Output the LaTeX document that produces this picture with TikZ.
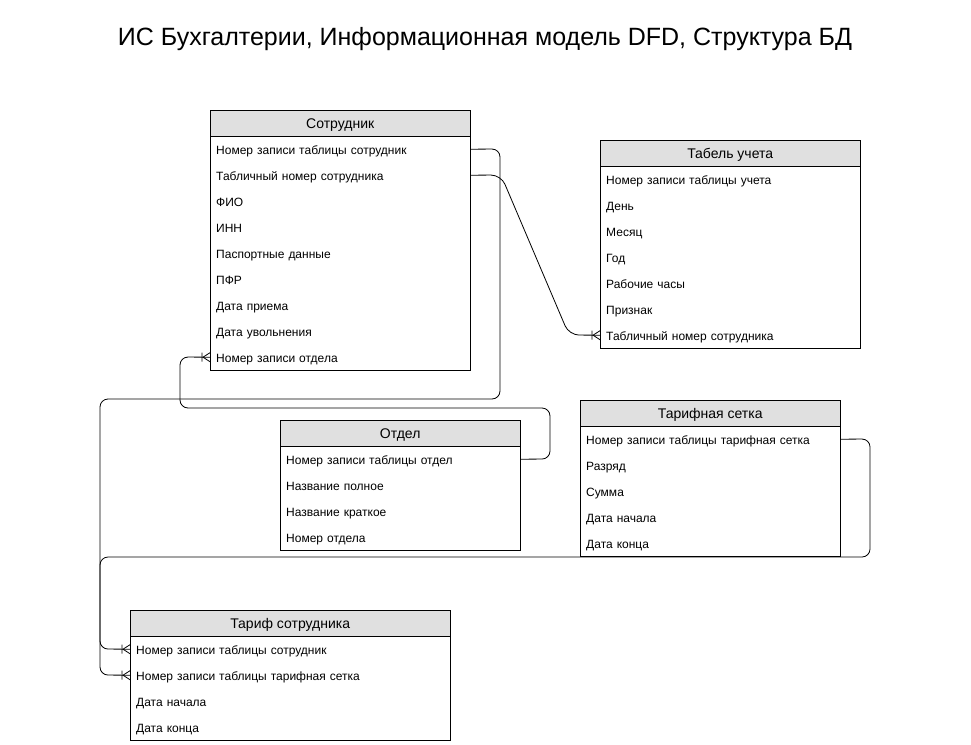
\documentclass[tikz,border=0pt]{standalone}
\usepackage{fontspec}
\setmainfont{Liberation Sans}
\begin{document}
\begin{tikzpicture}[x=1pt,y=-1pt,
  hdr/.style={draw=black, fill=black!12, minimum height=26pt, inner sep=0pt, anchor=north west, text height=11pt, text depth=0pt, font=\fontsize{14}{16}\selectfont},
  row/.style={inner xsep=6pt, inner ysep=0pt, minimum height=26pt, anchor=north west, align=left, text height=10.5pt, text depth=0.5pt, font=\fontsize{12}{14}\selectfont},
  tbox/.style={draw=black, line width=0.8pt},
  conn/.style={draw=black, line width=0.8pt, rounded corners=8pt},
  crow/.pic={\draw[line width=0.8pt] (-7,0) -- (0,-4.5) (-7,0) -- (0,4.5) (-8,-4.5) -- (-8,4.5);}
]
\useasboundingbox (0,0) rectangle (971,744);
\node[font=\fontsize{25}{29}\selectfont] (title) at (485,39) {ИС Бухгалтерии, Информационная модель DFD, Структура БД};

% Сотрудник
\draw[tbox] (210,110) rectangle (470,370);
\node[hdr, minimum width=260pt] (sh) at (210,110) {Сотрудник};
\node[row, text width=248pt] (s1) at (210,136) {Номер записи таблицы сотрудник};
\node[row, text width=248pt] (s2) at (210,162) {Табличный номер сотрудника};
\node[row, text width=248pt] (s3) at (210,188) {ФИО};
\node[row, text width=248pt] (s4) at (210,214) {ИНН};
\node[row, text width=248pt] (s5) at (210,240) {Паспортные данные};
\node[row, text width=248pt] (s6) at (210,266) {ПФР};
\node[row, text width=248pt] (s7) at (210,292) {Дата приема};
\node[row, text width=248pt] (s8) at (210,318) {Дата увольнения};
\node[row, text width=248pt] (s9) at (210,344) {Номер записи отдела};

% Табель учета
\draw[tbox] (600,140) rectangle (860,348);
\node[hdr, minimum width=260pt] (th) at (600,140) {Табель учета};
\node[row, text width=248pt] (t1) at (600,166) {Номер записи таблицы учета};
\node[row, text width=248pt] (t2) at (600,192) {День};
\node[row, text width=248pt] (t3) at (600,218) {Месяц};
\node[row, text width=248pt] (t4) at (600,244) {Год};
\node[row, text width=248pt] (t5) at (600,270) {Рабочие часы};
\node[row, text width=248pt] (t6) at (600,296) {Признак};
\node[row, text width=248pt] (t7) at (600,322) {Табличный номер сотрудника};

% Отдел
\draw[tbox] (280,420) rectangle (520,550);
\node[hdr, minimum width=240pt] (oh) at (280,420) {Отдел};
\node[row, text width=228pt] (o1) at (280,446) {Номер записи таблицы отдел};
\node[row, text width=228pt] (o2) at (280,472) {Название полное};
\node[row, text width=228pt] (o3) at (280,498) {Название краткое};
\node[row, text width=228pt] (o4) at (280,524) {Номер отдела};

% Тарифная сетка
\draw[tbox] (580,400) rectangle (840,556);
\node[hdr, minimum width=260pt] (rh) at (580,400) {Тарифная сетка};
\node[row, text width=248pt] (r1) at (580,426) {Номер записи таблицы тарифная сетка};
\node[row, text width=248pt] (r2) at (580,452) {Разряд};
\node[row, text width=248pt] (r3) at (580,478) {Сумма};
\node[row, text width=248pt] (r4) at (580,504) {Дата начала};
\node[row, text width=248pt] (r5) at (580,530) {Дата конца};

% Тариф сотрудника
\draw[tbox] (130,610) rectangle (450,740);
\node[hdr, minimum width=320pt] (ph) at (130,610) {Тариф сотрудника};
\node[row, text width=308pt] (p1) at (130,636) {Номер записи таблицы сотрудник};
\node[row, text width=308pt] (p2) at (130,662) {Номер записи таблицы тарифная сетка};
\node[row, text width=308pt] (p3) at (130,688) {Дата начала};
\node[row, text width=308pt] (p4) at (130,714) {Дата конца};

% connectors
\draw[conn] (s1.east) -- (500,149) -- (500,399) -- (100,399) -- (100,649) -- (p1.west);
\draw[conn, rounded corners=10pt] (s2.east) -- (501,175) -- (569,335) -- (t7.west);
\draw[conn] (o1.east) -- (550,459) -- (550,408) -- (180,408) -- (180,357) -- (s9.west);
\draw[conn] (r1.east) -- (870,439) -- (870,557) -- (100,557) -- (100,675) -- (p2.west);

\pic at (t7.west) {crow};
\pic at (s9.west) {crow};
\pic at (p1.west) {crow};
\pic at (p2.west) {crow};
\end{tikzpicture}
\end{document}
